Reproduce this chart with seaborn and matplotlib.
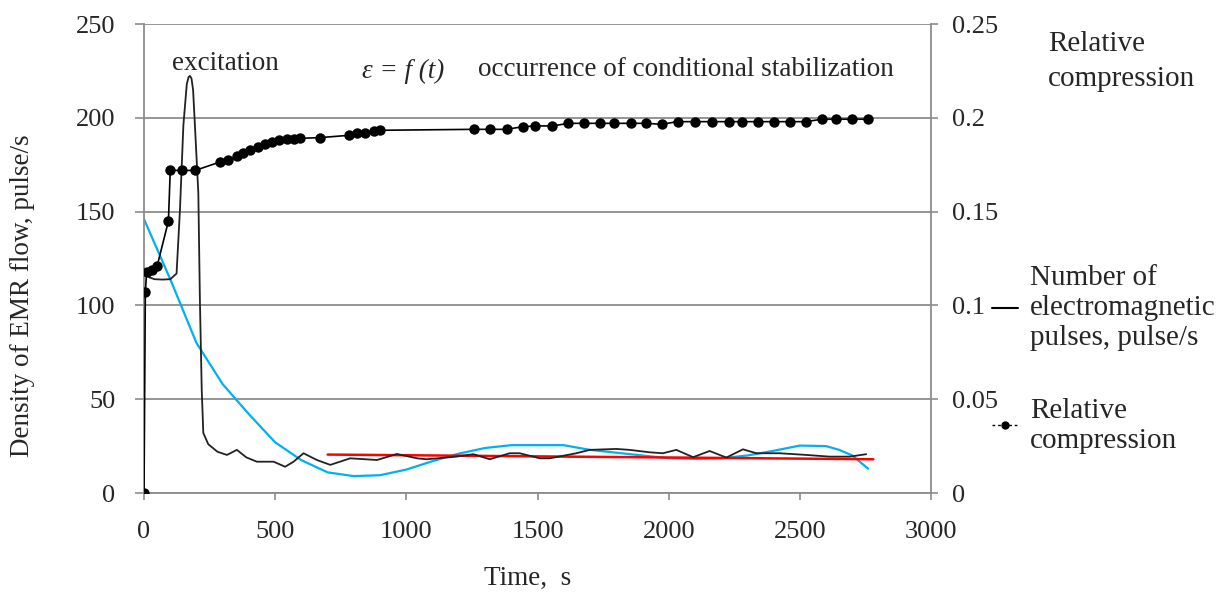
import matplotlib
matplotlib.use('Agg')
import numpy as np
import pandas as pd
import matplotlib.pyplot as plt
from matplotlib.lines import Line2D
import seaborn as sns

# EMR pulse density (left axis), pulse/s
emr_t = [5, 20, 40, 70, 100, 124, 137, 150, 163, 170, 175, 181, 187, 194, 207, 213, 220, 226,
         245, 280, 316, 354, 390, 430, 494, 538, 570, 608, 659, 710, 786, 888, 964,
         1041, 1077, 1191, 1255, 1318, 1394, 1432, 1509, 1547, 1648, 1699, 1800, 1851,
         1928, 1978, 2029, 2093, 2156, 2220, 2283, 2334, 2423, 2525, 2613, 2690, 2753]
emr_val = [118, 115, 114, 113.8, 114, 117, 151, 196, 218, 221.8, 222.4, 221, 215, 196, 160, 103, 55, 32,
           26, 22, 20.3, 23, 19, 16.7, 16.7, 14, 16.7, 21.2, 17.6, 15, 18.5, 17.6, 20.8,
           18.5, 18, 19.4, 20.7, 18, 21.2, 21.2, 18.5, 18.5, 21.2, 23, 23.5, 23,
           21.7, 21.2, 23, 19.1, 22.4, 18.9, 23.3, 21.2, 21.2, 20.3, 19.4, 19.4, 20.7]

# blue trend curve
blue_t = [0, 100, 200, 300, 400, 500, 600, 700, 800, 900, 1000, 1100, 1200, 1300, 1400,
          1500, 1600, 1700, 1800, 1900, 2000, 2100, 2200, 2300, 2400, 2500, 2600, 2650,
          2700, 2760]
blue_val = [146, 114, 80, 58, 42, 27, 17.5, 11, 9, 9.5, 12.5, 17, 21, 24, 25.5,
            25.5, 25.5, 23, 21.5, 20, 18.5, 18.2, 18.5, 20, 22.5, 25.3, 25, 23,
            20, 13]

# red linear trend
red_t = [700, 2780]
red_val = [20.5, 18.0]

# relative compression (right axis)
rc_t = [0, 5, 10, 30, 50, 93, 100, 144, 195, 290, 322, 354, 379, 405, 436, 462, 487,
        513, 545, 570, 595, 672, 780, 812, 844, 875, 901,
        1256, 1317, 1382, 1443, 1492, 1557, 1618, 1676, 1737, 1790, 1855, 1912, 1973,
        2034, 2099, 2164, 2229, 2279, 2340, 2401, 2462, 2523, 2584, 2637, 2698, 2760]
rc_val = [0, 0.107, 0.118, 0.119, 0.121, 0.145, 0.172, 0.172, 0.172, 0.1765, 0.1775,
          0.1796, 0.1811, 0.1829, 0.1846, 0.1859, 0.1871, 0.1880, 0.1886, 0.1889,
          0.1891, 0.1895, 0.1907, 0.1918, 0.1921, 0.1930, 0.1934,
          0.1939, 0.1939, 0.1939, 0.1953, 0.1957, 0.1957, 0.1971, 0.1971, 0.1971,
          0.1971, 0.1971, 0.1971, 0.1966, 0.1980, 0.1980, 0.1980, 0.1980, 0.1980,
          0.1980, 0.1980, 0.1980, 0.1980, 0.1993, 0.1993, 0.1993, 0.1993]

left_ticks = [0, 50, 100, 150, 200, 250]
right_ticks = [0, 0.05, 0.1, 0.15, 0.2, 0.25]
right_labels = ['0', '0.05', '0.1', '0.15', '0.2', '0.25']
x_ticks = [0, 500, 1000, 1500, 2000, 2500, 3000]

sns.set_theme(style='white')
plt.rcParams['font.family'] = ['Liberation Serif', 'DejaVu Serif']

GRAY = '#8c8c8c'
FS = 19
FS_TXT = 19.5
FS_LEG = 21

emr_df = pd.DataFrame({'t': emr_t, 'v': emr_val})
blue_df = pd.DataFrame({'t': blue_t, 'v': blue_val})
red_df = pd.DataFrame({'t': red_t, 'v': red_val})
rc_df = pd.DataFrame({'t': rc_t, 'v': rc_val})

fig, ax = plt.subplots(figsize=(12.32, 6.03), dpi=100)
fig.subplots_adjust(left=0.1169, right=0.7557, bottom=0.1824, top=0.960)

sns.lineplot(data=blue_df, x='t', y='v', ax=ax, color='#00B0F0', lw=1.6, estimator=None)
sns.lineplot(data=red_df, x='t', y='v', ax=ax, color='#FF0000', lw=1.8, estimator=None)
sns.lineplot(data=emr_df, x='t', y='v', ax=ax, color='#222222', lw=1.3, estimator=None)

ax.set_xlim(0, 3000)
ax.set_ylim(0, 250)
ax.set_xticks(x_ticks)
ax.set_yticks(left_ticks)
ax.grid(axis='y', color=GRAY, lw=1.3)
ax.grid(axis='x', visible=False)
ax.set_axisbelow(True)
for s in ['top', 'right']:
    ax.spines[s].set_visible(False)
for s in ['left', 'bottom']:
    ax.spines[s].set_color(GRAY)
    ax.spines[s].set_linewidth(1.3)
ax.tick_params(axis='x', bottom=True, direction='out', length=5, width=1.2, color=GRAY,
               labelsize=FS, pad=15)
ax.tick_params(axis='y', left=True, direction='out', length=6.5, width=1.2, color=GRAY,
               labelsize=FS, pad=14)

ax.set_xlabel('Time,  s', fontsize=FS_TXT)
ax.xaxis.set_label_coords(0.488, -0.155)
ax.set_ylabel('Density of EMR flow, pulse/s', fontsize=FS_TXT)
ax.yaxis.set_label_coords(-0.138, 0.42)

ax2 = ax.twinx()
sns.lineplot(data=rc_df, x='t', y='v', ax=ax2, color='black', lw=1.2, marker='o',
             markersize=7.5, markeredgewidth=0, estimator=None)
ax2.set_ylim(0, 0.25)
ax2.set_yticks(right_ticks)
ax2.set_yticklabels(right_labels)
for s in ['top', 'left', 'bottom']:
    ax2.spines[s].set_visible(False)
ax2.spines['right'].set_color(GRAY)
ax2.spines['right'].set_linewidth(1.3)
ax2.tick_params(axis='y', right=True, direction='out', length=5, width=1.2, color=GRAY,
                labelsize=FS, pad=10)
ax2.set_ylabel('Relative\ncompression', fontsize=FS_LEG, rotation=0, ha='left', va='top',
               linespacing=1.45)
ax2.yaxis.set_label_coords(1.149, 0.985)

ax.text(107, 229, 'excitation', fontsize=FS_TXT, ha='left', va='center')
ax.text(830, 225, 'ε = f (t)', fontsize=FS_TXT, style='italic', ha='left', va='center')
ax.text(1272, 226, 'occurrence of conditional stabilization', fontsize=FS_TXT,
        ha='left', va='center')

handles = [Line2D([], [], color='black', lw=1.5),
           Line2D([], [], color='black', lw=1.0, ls=(0, (2, 2)), marker='o', markersize=5)]
labels = ['Number of\nelectromagnetic\npulses, pulse/s', 'Relative\ncompression']
fig.legend(handles, labels, loc='upper left', bbox_to_anchor=(0.784, 0.604),
           frameon=False, fontsize=FS_LEG, handlelength=0.9, handletextpad=0.4,
           labelspacing=1.6)

fig.savefig('out.png', dpi=100)
